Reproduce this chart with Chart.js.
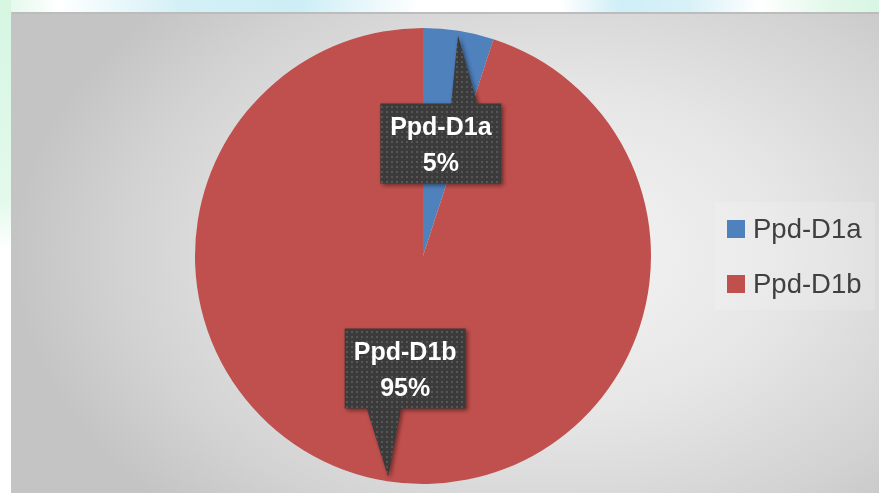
<!DOCTYPE html>
<html>
<head>
<meta charset="utf-8">
<script src="https://cdn.jsdelivr.net/npm/chart.js@4"></script>
<style>
  html, body { margin: 0; padding: 0; }
  body {
    width: 879px; height: 493px; overflow: hidden; position: relative;
    background: linear-gradient(90deg, #dff8ea 0px, #ffffff 60px, #d3f0f6 180px, #cdeef6 300px, #ffffff 420px, #ffffff 560px, #cfeef7 620px, #d8f1f7 690px, #ffffff 760px, #e2f8ea 830px, #d8f6e4 879px);
  }
  #panel {
    position: absolute; left: 11px; top: 12px; width: 868px; height: 481px;
    border-top: 2px solid #bcbcbc; border-left: 2px solid #c4c4c4; box-sizing: border-box;
    background: radial-gradient(ellipse 62% 75% at 62% 50%, #f5f5f5 0%, #e6e6e6 45%, #d2d2d2 80%, #c4c4c4 100%);
  }
  #leftstrip {
    position: absolute; left: 0; top: 0; width: 11px; height: 493px;
    background: linear-gradient(180deg, #d6f6e2 0px, #e3f9ec 200px, #ffffff 250px, #ffffff 493px);
  }
  canvas { position: absolute; left: 0; top: 0; }
</style>
</head>
<body>
<div id="leftstrip"></div>
<div id="panel"></div>
<canvas id="pieChart" width="879" height="493"></canvas>
<script>
// Chart data
const labels = ["Ppd-D1a", "Ppd-D1b"];
const shares = [5, 95];
const sliceColors = ["#4f81bd", "#c0504d"];

// Dotted dark fill used by the data callouts
function makeCalloutPattern(ctx) {
  const tile = document.createElement("canvas");
  tile.width = 5;
  tile.height = 5;
  const t = tile.getContext("2d");
  t.fillStyle = "#3b3b3b";
  t.fillRect(0, 0, 5, 5);
  t.fillStyle = "#565656";
  t.fillRect(1, 1, 2, 2);
  return ctx.createPattern(tile, "repeat");
}

// Callout labels (box + pointer) placed along each slice's middle angle
const calloutPlugin = {
  id: "callouts",
  afterDatasetsDraw(chart) {
    const ctx = chart.ctx;
    const meta = chart.getDatasetMeta(0);
    const values = chart.data.datasets[0].data;
    const total = values.reduce((a, b) => a + b, 0);
    const pattern = makeCalloutPattern(ctx);
    const boxW = 121;
    const boxH = 80;

    meta.data.forEach((arc, i) => {
      const p = arc.getProps(["x", "y", "startAngle", "endAngle", "outerRadius"], true);
      const mid = (p.startAngle + p.endAngle) / 2;
      const cx = p.x + Math.cos(mid) * p.outerRadius * 0.5;
      const cy = p.y + Math.sin(mid) * p.outerRadius * 0.5;
      const tx = p.x + Math.cos(mid) * p.outerRadius * 0.98;
      const ty = p.y + Math.sin(mid) * p.outerRadius * 0.98;

      const left = cx - boxW / 2;
      const top = cy - boxH / 2;
      const up = ty < cy;
      const edgeY = up ? top : top + boxH;
      const ix = cx + (tx - cx) * ((edgeY - cy) / (ty - cy));
      const baseC = ix + (tx > cx ? 17 : -15);

      ctx.save();
      ctx.shadowColor = "rgba(0,0,0,0.45)";
      ctx.shadowBlur = 4;
      ctx.shadowOffsetX = 2;
      ctx.shadowOffsetY = 2;
      ctx.fillStyle = pattern;
      ctx.beginPath();
      ctx.moveTo(left, top);
      if (up) {
        ctx.lineTo(baseC - 13, top);
        ctx.lineTo(tx, ty);
        ctx.lineTo(baseC + 13, top);
      }
      ctx.lineTo(left + boxW, top);
      ctx.lineTo(left + boxW, top + boxH);
      if (!up) {
        ctx.lineTo(baseC + 17, top + boxH);
        ctx.lineTo(tx, ty);
        ctx.lineTo(baseC - 17, top + boxH);
      }
      ctx.lineTo(left, top + boxH);
      ctx.closePath();
      ctx.fill();
      ctx.restore();

      ctx.save();
      ctx.fillStyle = "#ffffff";
      ctx.font = "bold 25px 'Liberation Sans', Arial, sans-serif";
      ctx.textAlign = "center";
      ctx.textBaseline = "middle";
      const pct = Math.round((values[i] / total) * 100) + "%";
      ctx.fillText(chart.data.labels[i], cx, cy - 15);
      ctx.fillText(pct, cx, cy + 21);
      ctx.restore();
    });
  },
};

// Legend drawn on the right side, Office style
const legendPlugin = {
  id: "sideLegend",
  afterDraw(chart) {
    const ctx = chart.ctx;
    const ds = chart.data.datasets[0];
    ctx.save();
    ctx.fillStyle = "rgba(255,255,255,0.14)";
    ctx.fillRect(715, 202, 160, 108);
    ctx.font = "27.5px 'Liberation Sans', Arial, sans-serif";
    ctx.textBaseline = "middle";
    chart.data.labels.forEach((label, i) => {
      const y = 229 + i * 55;
      ctx.fillStyle = ds.backgroundColor[i];
      ctx.fillRect(727, y - 9, 18, 18);
      ctx.fillStyle = "#404040";
      ctx.fillText(label, 753, y + 1);
    });
    ctx.restore();
  },
};

new Chart(document.getElementById("pieChart"), {
  type: "pie",
  data: {
    labels: labels,
    datasets: [
      {
        data: shares,
        backgroundColor: sliceColors,
        borderWidth: 0,
      },
    ],
  },
  options: {
    responsive: false,
    animation: false,
    layout: {
      padding: { left: 195, right: 228, top: 28, bottom: 9 },
    },
    plugins: {
      legend: { display: false },
      tooltip: { enabled: false },
    },
  },
  plugins: [calloutPlugin, legendPlugin],
});
</script>
</body>
</html>
